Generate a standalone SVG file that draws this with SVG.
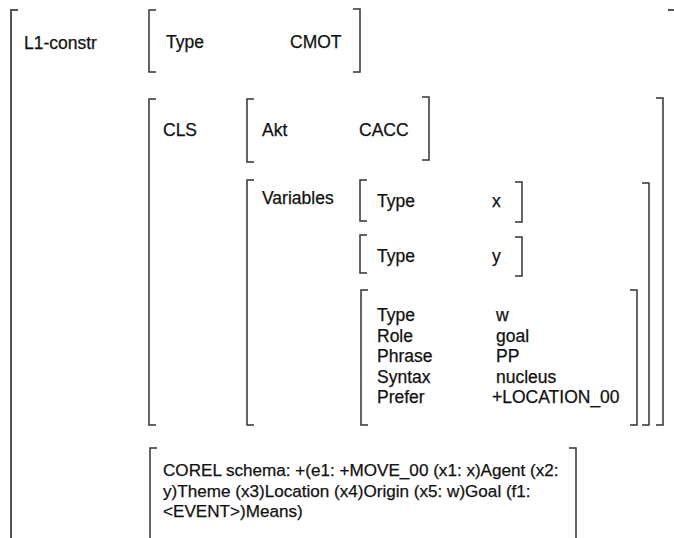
<svg xmlns="http://www.w3.org/2000/svg" width="674" height="538" viewBox="0 0 674 538">
  <style>
    .br { fill: none; stroke: #333333; stroke-width: 1.5; }
    .outer { fill: none; stroke: #555555; stroke-width: 2; }
    text { font-family: "Liberation Sans", Arial, sans-serif; font-size: 17.5px; fill: #111111; stroke: #111111; stroke-width: 0.25; }
    .corel { font-size: 17.1px; }
  </style>
  <rect width="674" height="538" fill="#ffffff"/>

  <!-- outermost frame: L1-constr -->
  <g id="l1-constr">
    <path class="outer" d="M18,10 H11 V540"/>
    <path class="outer" d="M668,10 H676"/>
    <text x="24" y="49">L1-constr</text>
  </g>

  <!-- Type CMOT -->
  <g id="type-cmot">
    <path class="br" d="M156,10 H149 V72 H156"/>
    <path class="br" d="M353,9 H360 V72 H353"/>
    <text x="166" y="48">Type</text>
    <text x="290" y="48">CMOT</text>
  </g>

  <!-- CLS -->
  <g id="cls">
    <path class="br" d="M156,99 H149 V425 H156"/>
    <path class="br" d="M656,98 H663 V425 H656"/>
    <text x="163" y="136">CLS</text>
  </g>

  <!-- Akt CACC -->
  <g id="akt">
    <path class="br" d="M254,99 H247 V162 H254"/>
    <path class="br" d="M422,97 H429 V160 H422"/>
    <text x="262" y="136">Akt</text>
    <text x="359" y="136">CACC</text>
  </g>

  <!-- Variables -->
  <g id="variables">
    <path class="br" d="M254,180 H247 V425 H254"/>
    <path class="br" d="M642,183 H649 V425 H642"/>
    <text x="262" y="204">Variables</text>
  </g>

  <!-- variable x -->
  <g id="var-x">
    <path class="br" d="M367,180 H360 V221 H367"/>
    <path class="br" d="M515,182 H522 V222 H515"/>
    <text x="377" y="207">Type</text>
    <text x="492" y="207">x</text>
  </g>

  <!-- variable y -->
  <g id="var-y">
    <path class="br" d="M367,235 H360 V273 H367"/>
    <path class="br" d="M515,237 H522 V276 H515"/>
    <text x="377" y="262">Type</text>
    <text x="492" y="262">y</text>
  </g>

  <!-- variable w -->
  <g id="var-w">
    <path class="br" d="M368,290 H361 V425 H368"/>
    <path class="br" d="M630,290 H637 V425 H630"/>
    <text x="377" y="321">Type</text>
    <text x="377" y="341.5">Role</text>
    <text x="377" y="362">Phrase</text>
    <text x="377" y="382.5">Syntax</text>
    <text x="377" y="403">Prefer</text>
    <text x="496" y="321">w</text>
    <text x="496" y="341.5">goal</text>
    <text x="496" y="362">PP</text>
    <text x="496" y="382.5">nucleus</text>
    <text x="492" y="403">+LOCATION_00</text>
  </g>

  <!-- COREL schema -->
  <g id="corel">
    <path class="br" d="M157,448 H150 V540"/>
    <path class="br" d="M569,448 H576 V540"/>
    <text class="corel" x="163" y="476">COREL schema: +(e1: +MOVE_00 (x1: x)Agent (x2:</text>
    <text class="corel" x="163" y="496.5">y)Theme (x3)Location (x4)Origin (x5: w)Goal (f1:</text>
    <text class="corel" x="163" y="517">&lt;EVENT&gt;)Means)</text>
  </g>
</svg>
